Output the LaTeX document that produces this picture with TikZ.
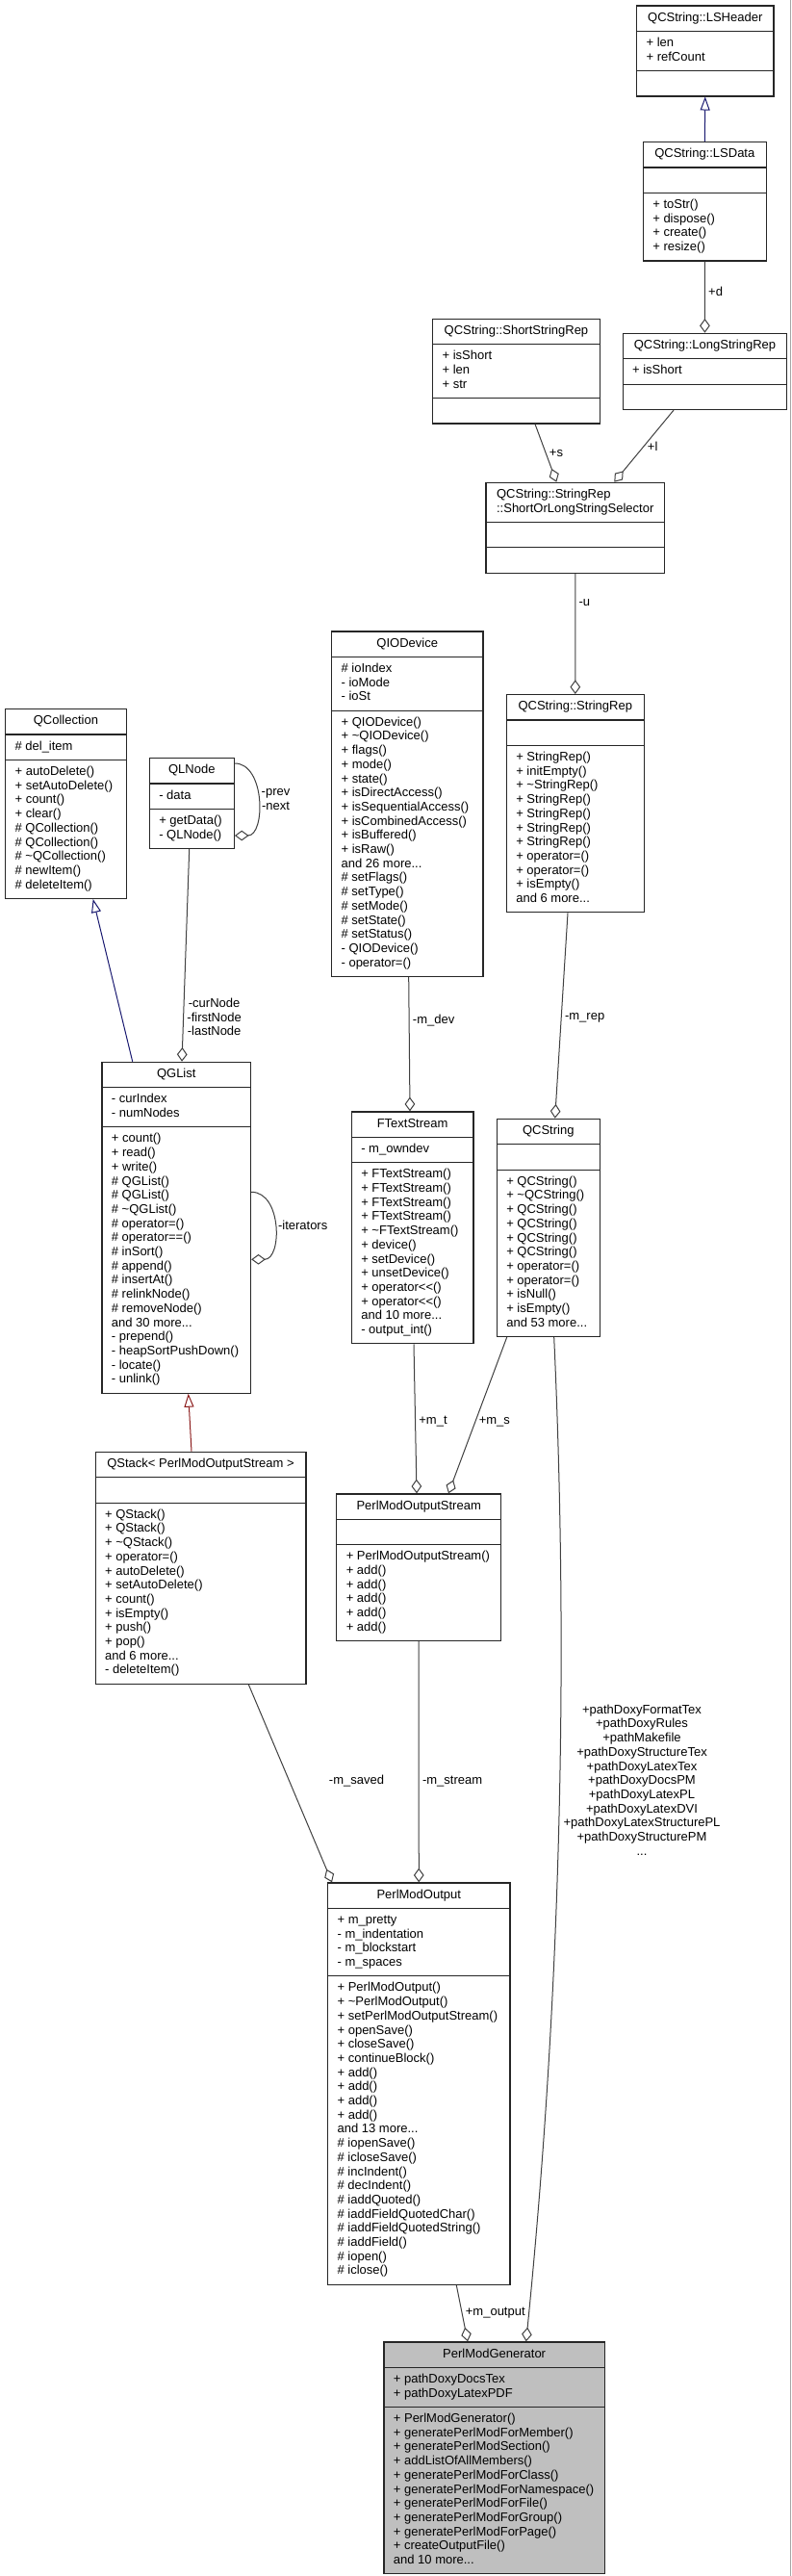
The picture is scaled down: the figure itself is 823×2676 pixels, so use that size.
\documentclass[tikz,border=0pt]{standalone}
\usepackage{fontspec}
\setmainfont{Liberation Sans}
\usetikzlibrary{shapes.multipart,arrows.meta,calc}
\newfontfamily\umlfont{Liberation Sans}
\newcommand{\umlsize}{\umlfont\fontsize{9.75}{11.025}\selectfont}
\newcommand{\cpart}[1]{\strut#1\strut}
\definecolor{edgegray}{HTML}{404040}
\definecolor{inhblue}{HTML}{191970}
\definecolor{inhred}{HTML}{8B1A1A}
\definecolor{genfill}{HTML}{BFBFBF}
\tikzset{
  umlclass/.style={rectangle split, rectangle split parts=3, rectangle split part align={center,left,left}, align=left, draw=black!85, line width=0.9pt, fill=white, anchor=north west, inner xsep=7.5pt, inner ysep=3.94pt, font=\umlsize},
  boxw/.style={minimum width={#1*0.75pt}},
  member/.style={draw=edgegray, line width=0.75pt, -{Diamond[fill=white, length=11pt, width=8pt]}},
  isa/.style={line width=0.75pt, -{Triangle[fill=white, length=10.5pt, width=7.5pt]}},
  lbl/.style={font=\umlsize, align=center, inner sep=2.5pt},
}
\begin{document}
\begin{tikzpicture}[x=0.75pt,y=0.75pt,yscale=-1,xscale=1]
%set diagram frame
\fill[white] (0,0) rectangle (823,2676);
\useasboundingbox (0,0) rectangle (823,2676);
\draw[black!35, line width=0.75pt] (821.5,0) -- (821.5,2676);

%Class [QCString::LSHeader]
\node[umlclass, boxw=142.3] (lsheader) at (661,5.4) {\cpart{QCString::LSHeader}\nodepart{two}\cpart{+ len\\+ refCount}\nodepart{three}\cpart{}};
%Class [QCString::LSData]
\node[umlclass, boxw=128] (lsdata) at (667.7,147) {\cpart{QCString::LSData}\nodepart{two}\cpart{}\nodepart{three}\cpart{+ toStr()\\+ dispose()\\+ create()\\+ resize()}};
%Class [QCString::ShortStringRep]
\node[umlclass, boxw=173.7] (shortrep) at (449,330.7) {\cpart{QCString::ShortStringRep}\nodepart{two}\cpart{+ isShort\\+ len\\+ str}\nodepart{three}\cpart{}};
%Class [QCString::LongStringRep]
\node[umlclass, boxw=170.7] (longrep) at (646.5,345.7) {\cpart{QCString::LongStringRep}\nodepart{two}\cpart{+ isShort}\nodepart{three}\cpart{}};
%Class [ShortOrLongStringSelector]
\node[umlclass, boxw=185.7] (selector) at (504.3,500.7) {\cpart{QCString::StringRep\\::ShortOrLongStringSelector}\nodepart{two}\cpart{}\nodepart{three}\cpart{}};
%Class [QIODevice]
\node[umlclass, boxw=157.3] (qiodev) at (344,655.3) {\cpart{QIODevice}\nodepart{two}\cpart{\# ioIndex\\- ioMode\\- ioSt}\nodepart{three}\cpart{+ QIODevice()\\+ \textasciitilde QIODevice()\\+ flags()\\+ mode()\\+ state()\\+ isDirectAccess()\\+ isSequentialAccess()\\+ isCombinedAccess()\\+ isBuffered()\\+ isRaw()\\and 26 more...\\\# setFlags()\\\# setType()\\\# setMode()\\\# setState()\\\# setStatus()\\- QIODevice()\\- operator=()}};
%Class [QCString::StringRep]
\node[umlclass, boxw=143] (strrep) at (525.7,721) {\cpart{QCString::StringRep}\nodepart{two}\cpart{}\nodepart{three}\cpart{+ StringRep()\\+ initEmpty()\\+ \textasciitilde StringRep()\\+ StringRep()\\+ StringRep()\\+ StringRep()\\+ StringRep()\\+ operator=()\\+ operator=()\\+ isEmpty()\\and 6 more...}};
%Class [QCollection]
\node[umlclass, boxw=125.7] (qcoll) at (5,736) {\cpart{QCollection}\nodepart{two}\cpart{\# del\_item}\nodepart{three}\cpart{+ autoDelete()\\+ setAutoDelete()\\+ count()\\+ clear()\\\# QCollection()\\\# QCollection()\\\# \textasciitilde QCollection()\\\# newItem()\\\# deleteItem()}};
%Class [QLNode]
\node[umlclass, boxw=88] (qlnode) at (154.7,787) {\cpart{QLNode}\nodepart{two}\cpart{- data}\nodepart{three}\cpart{+ getData()\\- QLNode()}};
%Class [QGList]
\node[umlclass, boxw=154.7] (qglist) at (105.3,1102.7) {\cpart{QGList}\nodepart{two}\cpart{- curIndex\\- numNodes}\nodepart{three}\cpart{+ count()\\+ read()\\+ write()\\\# QGList()\\\# QGList()\\\# \textasciitilde QGList()\\\# operator=()\\\# operator==()\\\# inSort()\\\# append()\\\# insertAt()\\\# relinkNode()\\\# removeNode()\\and 30 more...\\- prepend()\\- heapSortPushDown()\\- locate()\\- unlink()}};
%Class [QStack]
\node[umlclass, boxw=218.8] (qstack) at (98.5,1507.7) {\cpart{QStack< PerlModOutputStream >}\nodepart{two}\cpart{}\nodepart{three}\cpart{+ QStack()\\+ QStack()\\+ \textasciitilde QStack()\\+ operator=()\\+ autoDelete()\\+ setAutoDelete()\\+ count()\\+ isEmpty()\\+ push()\\+ pop()\\and 6 more...\\- deleteItem()}};
%Class [FTextStream]
\node[umlclass, boxw=126.6] (ftext) at (364.7,1154.3) {\cpart{FTextStream}\nodepart{two}\cpart{- m\_owndev}\nodepart{three}\cpart{+ FTextStream()\\+ FTextStream()\\+ FTextStream()\\+ FTextStream()\\+ \textasciitilde FTextStream()\\+ device()\\+ setDevice()\\+ unsetDevice()\\+ operator<{}<()\\+ operator<{}<()\\and 10 more...\\- output\_int()}};
%Class [QCString]
\node[umlclass, boxw=107] (qcstr) at (515.7,1161.7) {\cpart{QCString}\nodepart{two}\cpart{}\nodepart{three}\cpart{+ QCString()\\+ \textasciitilde QCString()\\+ QCString()\\+ QCString()\\+ QCString()\\+ QCString()\\+ operator=()\\+ operator=()\\+ isNull()\\+ isEmpty()\\and 53 more...}};
%Class [PerlModOutputStream]
\node[umlclass, boxw=170.8] (pmstream) at (349.2,1551.3) {\cpart{PerlModOutputStream}\nodepart{two}\cpart{}\nodepart{three}\cpart{+ PerlModOutputStream()\\+ add()\\+ add()\\+ add()\\+ add()\\+ add()}};
%Class [PerlModOutput]
\node[umlclass, boxw=189.3] (pmout) at (340,1955.3) {\cpart{PerlModOutput}\nodepart{two}\cpart{+ m\_pretty\\- m\_indentation\\- m\_blockstart\\- m\_spaces}\nodepart{three}\cpart{+ PerlModOutput()\\+ \textasciitilde PerlModOutput()\\+ setPerlModOutputStream()\\+ openSave()\\+ closeSave()\\+ continueBlock()\\+ add()\\+ add()\\+ add()\\+ add()\\and 13 more...\\\# iopenSave()\\\# icloseSave()\\\# incIndent()\\\# decIndent()\\\# iaddQuoted()\\\# iaddFieldQuotedChar()\\\# iaddFieldQuotedString()\\\# iaddField()\\\# iopen()\\\# iclose()}};
%Class [PerlModGenerator]
\node[umlclass, boxw=229.4, fill=genfill] (pmgen) at (398.3,2432.3) {\cpart{PerlModGenerator}\nodepart{two}\cpart{+ pathDoxyDocsTex\\+ pathDoxyLatexPDF}\nodepart{three}\cpart{+ PerlModGenerator()\\+ generatePerlModForMember()\\+ generatePerlModSection()\\+ addListOfAllMembers()\\+ generatePerlModForClass()\\+ generatePerlModForNamespace()\\+ generatePerlModForFile()\\+ generatePerlModForGroup()\\+ generatePerlModForPage()\\+ createOutputFile()\\and 10 more...}};

%Inheritance
\draw[isa, draw=inhblue] (lsdata.north) -- (lsheader.south);
\draw[isa, draw=inhblue] ($(qglist.north west)+(32.4,0)$) -- ($(qcoll.south west)+(91.7,0)$);
\draw[isa, draw=inhred] ($(qstack.north west)+(100.5,0)$) -- ($(qglist.south west)+(90.4,0)$);

%Members
\draw[member] (lsdata.south) -- node[lbl, pos=0.42, anchor=west] (l-d) {+d} (longrep.north);
\draw[member] ($(shortrep.south west)+(107,0)$) -- node[lbl, pos=0.5, anchor=west] (l-s) {+s} ($(selector.north west)+(74,0)$);
\draw[member] ($(longrep.south west)+(53.5,0)$) -- node[lbl, pos=0.5, anchor=west] (l-l) {+l} ($(selector.north west)+(134,0)$);
\draw[member] (selector.south) -- node[lbl, pos=0.24, anchor=west] (l-u) {-u} (strrep.north);
\draw[member] ($(qlnode.north east)+(0,6)$) .. controls +(32,0) and +(32,0) .. node[lbl, pos=0.5, anchor=west] (l-prev) {-prev\\-next} ($(qlnode.north east)+(0,81)$);
\draw[member] ($(qlnode.south west)+(42,0)$) -- node[lbl, pos=0.79, anchor=west] (l-nodes) {-curNode\\-firstNode\\-lastNode} ($(qglist.north west)+(83.7,0)$);
\draw[member] ($(qglist.north east)+(0,135.6)$) .. controls +(32,0) and +(32,0) .. node[lbl, pos=0.5, anchor=west] (l-iter) {-iterators} ($(qglist.north east)+(0,205.6)$);
\draw[member] ($(qiodev.south west)+(80.7,0)$) -- node[lbl, pos=0.32, anchor=west] (l-dev) {-m\_dev} ($(ftext.north west)+(61.3,0)$);
\draw[member] ($(strrep.south west)+(64.3,0)$) -- node[lbl, pos=0.51, anchor=west] (l-rep) {-m\_rep} ($(qcstr.north west)+(61,0)$);
\draw[member] ($(ftext.south west)+(65.3,0)$) -- node[lbl, pos=0.52, anchor=west] (l-t) {+m\_t} ($(pmstream.north west)+(83.8,0)$);
\draw[member] ($(qcstr.south west)+(11,0)$) -- node[lbl, pos=0.54, anchor=west] (l-ms) {+m\_s} ($(pmstream.north west)+(116.8,0)$);
\draw[member] ($(qcstr.south west)+(60,0)$) .. controls (590,1700) and (585,2050) .. ($(pmgen.north west)+(148.4,0)$);
\node[lbl] (l-paths) at (667,1849) {+pathDoxyFormatTex\\+pathDoxyRules\\+pathMakefile\\+pathDoxyStructureTex\\+pathDoxyLatexTex\\+pathDoxyDocsPM\\+pathDoxyLatexPL\\+pathDoxyLatexDVI\\+pathDoxyLatexStructurePL\\+pathDoxyStructurePM\\...};
\draw[member] (pmstream.south) -- node[lbl, pos=0.58, anchor=west] (l-stream) {-m\_stream} (pmout.north);
\draw[member] ($(qstack.south west)+(159.8,0)$) -- node[lbl, pos=0.49, anchor=west, xshift=28pt] (l-saved) {-m\_saved} ($(pmout.north west)+(5,0)$);
\draw[member] ($(pmout.south west)+(134.3,0)$) -- node[lbl, pos=0.49, anchor=west] (l-out) {+m\_output} ($(pmgen.north west)+(87.7,0)$);

\end{tikzpicture}
\end{document}
